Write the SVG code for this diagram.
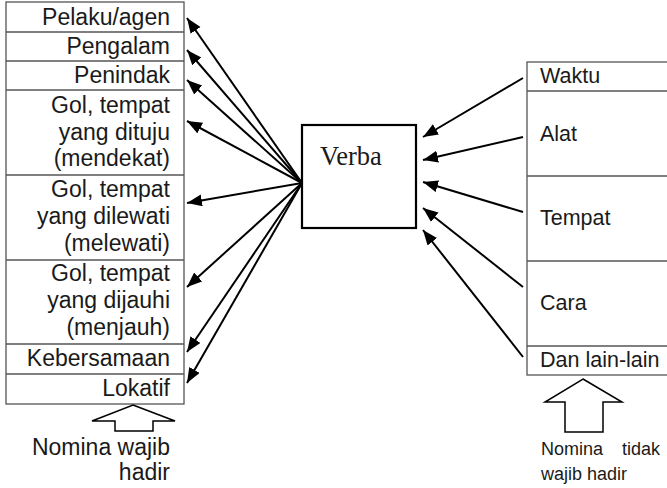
<svg xmlns="http://www.w3.org/2000/svg" width="667" height="488" viewBox="0 0 667 488">
  <style>
    .cell { fill: #fff; stroke: #555; stroke-width: 1.3; }
    .sep { stroke: #555; stroke-width: 1.3; }
    .lbl { font-family: "Liberation Sans", Arial, sans-serif; font-size: 23px; fill: #1a1a1a; }
    .lblr { font-family: "Liberation Sans", Arial, sans-serif; font-size: 21.5px; fill: #1a1a1a; }
    .note { font-family: "Liberation Sans", Arial, sans-serif; font-size: 18px; fill: #1a1a1a; }
    .end { text-anchor: end; }
    .edge { stroke: #000; stroke-width: 2; fill: none; marker-end: url(#head); }
    .hollow { fill: #fff; stroke: #000; stroke-width: 1.5; stroke-linejoin: miter; }
  </style>
  <defs>
    <marker id="head" markerUnits="userSpaceOnUse" markerWidth="16" markerHeight="14" refX="15" refY="6" orient="auto">
      <path d="M0,0 L15,6 L0,12 z" fill="#000"/>
    </marker>
  </defs>

  <rect width="667" height="488" fill="#fff"/>

  <!-- left table: obligatory nominals -->
  <g id="left-table">
    <rect class="cell" x="6" y="2" width="178" height="402"/>
    <line class="sep" x1="6" y1="32" x2="184" y2="32"/>
    <line class="sep" x1="6" y1="61" x2="184" y2="61"/>
    <line class="sep" x1="6" y1="90" x2="184" y2="90"/>
    <line class="sep" x1="6" y1="175" x2="184" y2="175"/>
    <line class="sep" x1="6" y1="260" x2="184" y2="260"/>
    <line class="sep" x1="6" y1="344" x2="184" y2="344"/>
    <line class="sep" x1="6" y1="374" x2="184" y2="374"/>
  </g>
  <g id="pelaku"><text class="lbl end" x="170" y="25">Pelaku/agen</text></g>
  <g id="pengalam"><text class="lbl end" x="170" y="54">Pengalam</text></g>
  <g id="penindak"><text class="lbl end" x="170" y="83">Penindak</text></g>
  <g id="gol-dituju">
    <text class="lbl end" x="170" y="113">Gol, tempat</text>
    <text class="lbl end" x="170" y="140">yang dituju</text>
    <text class="lbl end" x="170" y="166">(mendekat)</text>
  </g>
  <g id="gol-dilewati">
    <text class="lbl end" x="170" y="197">Gol, tempat</text>
    <text class="lbl end" x="170" y="224">yang dilewati</text>
    <text class="lbl end" x="170" y="251">(melewati)</text>
  </g>
  <g id="gol-dijauhi">
    <text class="lbl end" x="170" y="281">Gol, tempat</text>
    <text class="lbl end" x="170" y="308">yang dijauhi</text>
    <text class="lbl end" x="170" y="335">(menjauh)</text>
  </g>
  <g id="kebersamaan"><text class="lbl end" x="170" y="366">Kebersamaan</text></g>
  <g id="lokatif"><text class="lbl end" x="170" y="396">Lokatif</text></g>

  <!-- verb node -->
  <g id="verba">
    <rect x="302" y="125" width="114" height="103" fill="#fff" stroke="#000" stroke-width="2.2"/>
    <text x="320" y="165" font-family="'Liberation Serif', 'Times New Roman', serif" font-size="26.5" fill="#1a1a1a">Verba</text>
  </g>

  <!-- right table: optional nominals -->
  <g id="right-table">
    <rect class="cell" x="527" y="62" width="150" height="313"/>
    <line class="sep" x1="527" y1="91" x2="667" y2="91"/>
    <line class="sep" x1="527" y1="176" x2="667" y2="176"/>
    <line class="sep" x1="527" y1="261" x2="667" y2="261"/>
    <line class="sep" x1="527" y1="346" x2="667" y2="346"/>
  </g>
  <g id="waktu"><text class="lblr" x="540" y="83">Waktu</text></g>
  <g id="alat"><text class="lblr" x="540" y="141">Alat</text></g>
  <g id="tempat"><text class="lblr" x="540" y="225">Tempat</text></g>
  <g id="cara"><text class="lblr" x="540" y="310">Cara</text></g>
  <g id="dll"><text class="lblr" x="540" y="367">Dan lain-lain</text></g>

  <!-- connectors -->
  <g id="connectors">
    <line class="edge" x1="302" y1="183" x2="187" y2="18"/>
    <line class="edge" x1="302" y1="183" x2="187" y2="50"/>
    <line class="edge" x1="302" y1="183" x2="187" y2="80"/>
    <line class="edge" x1="302" y1="183" x2="187" y2="121"/>
    <line class="edge" x1="302" y1="183" x2="187" y2="203"/>
    <line class="edge" x1="302" y1="183" x2="187" y2="287"/>
    <line class="edge" x1="302" y1="183" x2="187" y2="352"/>
    <line class="edge" x1="302" y1="183" x2="187" y2="383"/>

    <line class="edge" x1="523" y1="78" x2="423" y2="137"/>
    <line class="edge" x1="523" y1="137" x2="423" y2="160"/>
    <line class="edge" x1="523" y1="212" x2="423" y2="182"/>
    <line class="edge" x1="523" y1="287" x2="423" y2="208"/>
    <line class="edge" x1="523" y1="357" x2="423" y2="230"/>
  </g>

  <!-- block arrows with captions -->
  <g id="wajib">
    <polygon class="hollow" points="133,405 175,421 153,421 153,431 115,431 115,421 92,421"/>
    <text class="lbl end" x="170" y="455">Nomina wajib</text>
    <text class="lbl end" x="170" y="480">hadir</text>
  </g>
  <g id="tidak-wajib">
    <polygon class="hollow" points="583,379 622,402 603,402 603,432 565,432 565,402 545,402"/>
    <text class="note" x="541" y="455">Nomina</text>
    <text class="note end" x="660" y="455">tidak</text>
    <text class="note" x="541" y="480">wajib hadir</text>
  </g>
</svg>
